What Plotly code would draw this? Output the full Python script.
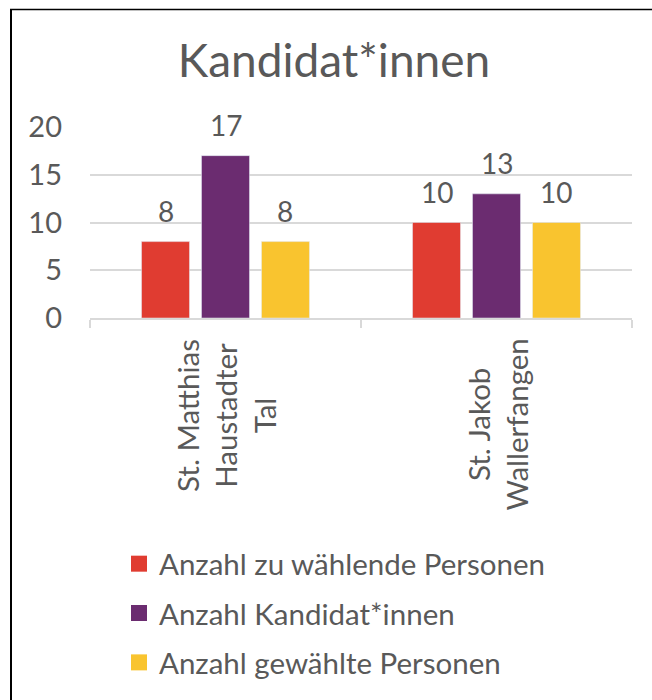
import plotly.graph_objects as go

categories = ["St. Matthias<br>Haustadter<br>Tal", "St. Jakob<br>Wallerfangen"]
series_names = ["Anzahl zu wählende Personen", "Anzahl Kandidat*innen", "Anzahl gewählte Personen"]
values_zu_waehlen = [8, 10]
values_kandidaten = [17, 13]
values_gewaehlt = [8, 10]
colors = ["#E03C31", "#6B2C70", "#F9C42F"]
y_ticks = [0, 5, 10, 15, 20]

series_values = [values_zu_waehlen, values_kandidaten, values_gewaehlt]

W, H = 652, 700
ML, MR, MT, MB = 90, 20, 127, 382
FONT = "Lato"
TXT = "#595959"
BARGAP, GROUPGAP = 0.336, 0.2

fig = go.Figure()
for name, vals, col in zip(series_names, series_values, colors):
    fig.add_trace(go.Bar(
        x=categories, y=vals, name=name, marker_color=col,
        showlegend=False, legendgroup=name, hoverinfo="skip",
    ))
    # legend-only marker trace for a bigger swatch
    fig.add_trace(go.Scatter(
        x=[None], y=[None], mode="markers", name=name, legendgroup=name,
        marker=dict(symbol="square", size=16, color=col),
    ))

plot_w = W - ML - MR
plot_h = H - MT - MB
cat_w = plot_w / len(categories)
pitch = cat_w * (1 - BARGAP) / len(series_values)

annotations = []
# data labels
for k, vals in enumerate(series_values):
    for cat, v in zip(categories, vals):
        annotations.append(dict(
            x=cat, y=v, xref="x", yref="y", text=str(v), showarrow=False,
            xshift=(k - (len(series_values) - 1) / 2) * pitch, yshift=12, yanchor="bottom",
            font=dict(family=FONT, size=28, color=TXT),
        ))
# category labels (rotated)
for cat in categories:
    annotations.append(dict(
        x=cat, y=-(337 - (H - MB)) / plot_h, xref="x", yref="paper", text=cat,
        showarrow=False, textangle=-90, align="center",
        xanchor="center", yanchor="top",
        font=dict(family=FONT, size=29.5, color=TXT),
    ))

def px_to_paper_x(px):
    return (px - ML) / plot_w
def px_to_paper_y(py):
    return (H - MB - py) / plot_h

shapes = [
    dict(type="line", xref="paper", yref="paper",
         x0=px_to_paper_x(11), x1=px_to_paper_x(11),
         y0=px_to_paper_y(9), y1=px_to_paper_y(H + 5),
         line=dict(color="black", width=2)),
    dict(type="line", xref="paper", yref="paper",
         x0=px_to_paper_x(10), x1=px_to_paper_x(W + 5),
         y0=px_to_paper_y(9.5), y1=px_to_paper_y(9.5),
         line=dict(color="black", width=1.5)),
]

fig.update_layout(
    width=W, height=H,
    margin=dict(l=ML, r=MR, t=MT, b=MB, autoexpand=False),
    paper_bgcolor="white", plot_bgcolor="white",
    barmode="group", bargap=BARGAP, bargroupgap=GROUPGAP,
    title=dict(text="Kandidat*innen", x=334 / W, xref="container", xanchor="center",
               y=1 - 61 / H, yref="container", yanchor="middle",
               font=dict(family=FONT, size=46, color=TXT)),
    font=dict(family=FONT, color=TXT),
    hovermode=False,
    xaxis=dict(showticklabels=False, tickson="boundaries", ticks="outside",
               ticklen=8, tickcolor="#D9D9D9", tickwidth=1.5,
               showline=True, linecolor="#D9D9D9", linewidth=1.5,
               showgrid=False, zeroline=False),
    yaxis=dict(range=[0, 20], tickvals=y_ticks, showgrid=True,
               gridcolor="#D9D9D9", gridwidth=1.5, zeroline=False,
               showline=False, ticks="", ticklabelstandoff=27,
               tickfont=dict(family=FONT, size=29, color=TXT)),
    legend=dict(x=119 / W, xref="container", xanchor="left",
                y=1 - 538 / H, yref="container", yanchor="top",
                traceorder="grouped", tracegroupgap=8,
                font=dict(family=FONT, size=29.5, color=TXT),
                itemwidth=30, bgcolor="rgba(0,0,0,0)"),
    annotations=annotations,
    shapes=shapes,
)

fig.write_html(
    "out.html",
    config={"displayModeBar": False},
    post_script="document.body.style.margin='0';document.body.style.overflow='hidden';",
)
